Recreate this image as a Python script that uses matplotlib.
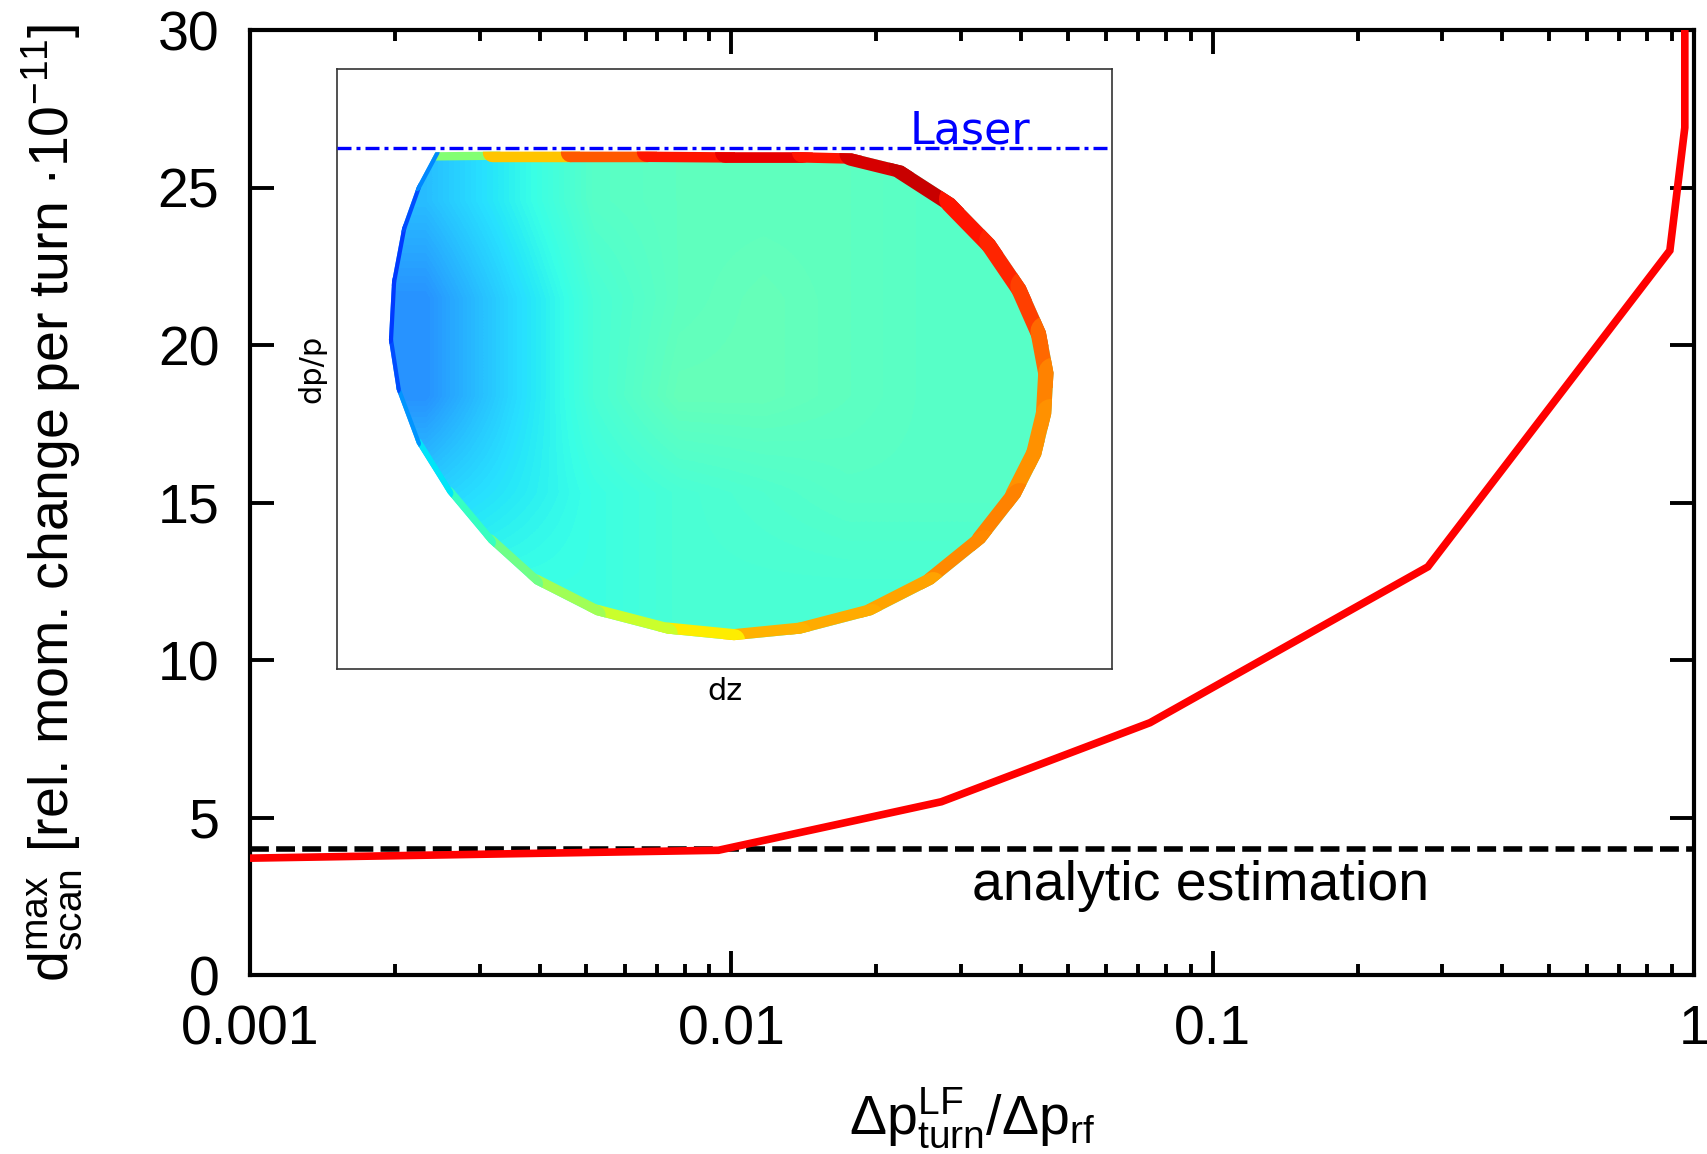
import matplotlib
matplotlib.use('Agg')
import matplotlib.pyplot as plt
import numpy as np
from matplotlib.collections import LineCollection
from matplotlib.patches import Polygon

plt.rcParams['font.family'] = ['Liberation Sans', 'DejaVu Sans']
plt.rcParams['mathtext.fontset'] = 'custom'
plt.rcParams['mathtext.rm'] = 'Liberation Sans'
plt.rcParams['mathtext.it'] = 'Liberation Sans:italic'

# main curve: max scan speed vs. laser force ratio
ratio = [0.001, 0.0094, 0.0273, 0.0741, 0.280, 0.891, 0.957, 0.957]
d_scan = [3.71, 3.96, 5.50, 8.01, 12.96, 23.0, 26.9, 35.0]
analytic = 4.0

x_ticks = [0.001, 0.01, 0.1, 1]
x_ticklabels = ['0.001', '0.01', '0.1', '1']
y_ticks = [0, 5, 10, 15, 20, 25, 30]

# inset: bucket outline (normalised dz, dp/p), jet level and rim width along it
dz_edge = [0.127, 0.200, 0.300, 0.400, 0.500, 0.600, 0.664, 0.730, 0.796, 0.848,
           0.888, 0.914, 0.924, 0.921, 0.908, 0.881, 0.835, 0.769, 0.690, 0.598,
           0.512, 0.426, 0.334, 0.255, 0.196, 0.143, 0.103, 0.077, 0.067, 0.071,
           0.084, 0.103, 0.127]
dpp_edge = [0.862, 0.863, 0.863, 0.863, 0.862, 0.862, 0.860, 0.839, 0.784, 0.715,
            0.639, 0.563, 0.494, 0.425, 0.356, 0.287, 0.211, 0.142, 0.090, 0.059,
            0.048, 0.059, 0.090, 0.142, 0.211, 0.293, 0.376, 0.466, 0.549, 0.646,
            0.735, 0.804, 0.862]
rim_level = [0.40, 0.62, 0.78, 0.85, 0.92, 0.90, 0.88, 0.97, 0.90, 0.88,
             0.86, 0.82, 0.78, 0.76, 0.75, 0.76, 0.78, 0.75, 0.72, 0.74,
             0.70, 0.62, 0.57, 0.52, 0.45, 0.38, 0.32, 0.22, 0.18, 0.18,
             0.18, 0.22, 0.30]
rim_width = [12, 14, 14, 15, 15, 15, 18, 20, 22, 22,
             22, 22, 22, 22, 22, 20, 18, 17, 16, 16,
             16, 15, 14, 12, 10, 8, 6, 6, 6, 6,
             6, 6]

# particle colour (jet level) inside the bucket, coarse grid
grid_dz = [0.06, 0.93]
grid_dpp = [0.05, 0.86]
grid_level = [
    [0.30, 0.36, 0.42, 0.43, 0.43, 0.43, 0.42, 0.42],
    [0.25, 0.33, 0.40, 0.43, 0.44, 0.43, 0.42, 0.42],
    [0.25, 0.33, 0.40, 0.44, 0.44, 0.43, 0.42, 0.42],
    [0.32, 0.35, 0.38, 0.40, 0.41, 0.42, 0.42, 0.42],
    [0.38, 0.38, 0.38, 0.40, 0.40, 0.40, 0.40, 0.40],
]
laser_level = 0.869

fig = plt.figure(figsize=(17.08, 11.54), dpi=100)
ax = fig.add_axes([0.1464, 0.1551, 0.8454, 0.8189])

ax.axhline(analytic, color='black', lw=4, dashes=(3.4, 1.3), zorder=2)
ax.plot(ratio, d_scan, color='#ff0000', lw=5.5, zorder=3, solid_joinstyle='miter')
ax.text(0.0942, 2.38, 'analytic estimation', fontsize=40, ha='center', va='baseline')

ax.set_xscale('log')
ax.set_xlim(0.001, 1)
ax.set_ylim(0, 30)
ax.set_xticks(x_ticks)
ax.set_xticklabels(x_ticklabels)
ax.set_yticks(y_ticks)
ax.tick_params(which='major', direction='in', length=17, width=2.8, labelsize=40,
               top=True, right=True)
ax.tick_params(axis='x', which='major', pad=21)
ax.tick_params(axis='y', which='major', pad=22)
ax.tick_params(which='minor', direction='in', length=8, width=2.8, top=True)
ax.tick_params(axis='y', which='minor', left=False, right=False)
for s in ax.spines.values():
    s.set_linewidth(3)

ax.set_xlabel(r'$\mathrm{\Delta p^{LF}_{turn}/\Delta p_{rf}}$', fontsize=40)
ax.xaxis.set_label_coords(0.5, -0.117)
ax.set_ylabel(r'$\mathrm{d^{max}_{scan}}$ [rel. mom. change per turn ·10$^{-11}$]',
              fontsize=40)
ax.yaxis.set_label_coords(-0.114, 0.5)

# inset with the particle distribution in the bucket
ins = fig.add_axes([0.1973, 0.4203, 0.4540, 0.5195], zorder=5)
ins.set_xlim(0, 1)
ins.set_ylim(0, 1)
ins.set_xticks([])
ins.set_yticks([])
for s in ins.spines.values():
    s.set_linewidth(1.2)
    s.set_color('#333333')

outline = Polygon(np.column_stack([dz_edge, dpp_edge]), closed=True,
                  facecolor='none', edgecolor='none', transform=ins.transData)
ins.add_patch(outline)
img = ins.imshow(grid_level, cmap='jet', vmin=0, vmax=1, alpha=0.85,
                 extent=[grid_dz[0], grid_dz[1], grid_dpp[0], grid_dpp[1]],
                 interpolation='bilinear', aspect='auto', zorder=1)
img.set_clip_path(outline)

pts = np.column_stack([dz_edge, dpp_edge])
segs = np.stack([pts[:-1], pts[1:]], axis=1)
seg_level = [(a + b) / 2 for a, b in zip(rim_level[:-1], rim_level[1:])]
rim = LineCollection(segs, cmap='jet', norm=plt.Normalize(0, 1),
                     linewidths=rim_width, capstyle='round', zorder=2)
rim.set_array(np.array(seg_level))
ins.add_collection(rim)
rim.set_clip_path(outline)

ins.axhline(laser_level, color='#0000ff', lw=2.4, linestyle=(0, (4.2, 1.5, 1.2, 1.5)),
            zorder=3)
ins.text(0.739, laser_level + 0.008, 'Laser', color='#0000ff', fontsize=32,
         family='DejaVu Sans', ha='left', va='baseline')
ins.set_xlabel('dz', fontsize=22, family='DejaVu Sans', labelpad=6)
ins.set_ylabel('dp/p', fontsize=22, family='DejaVu Sans', labelpad=8)

fig.savefig('out.png', dpi=100)
